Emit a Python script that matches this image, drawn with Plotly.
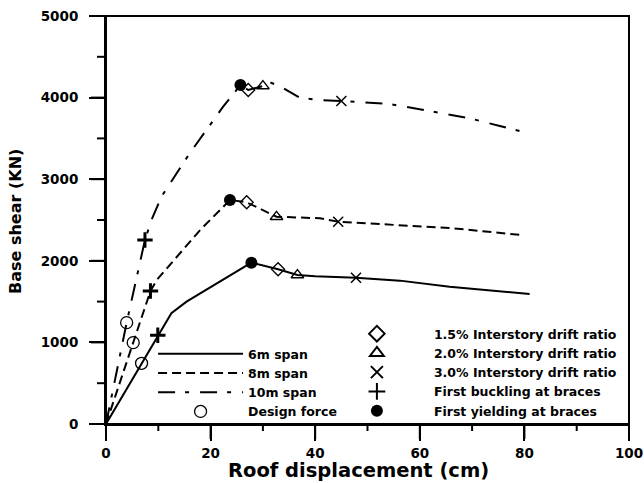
import plotly.graph_objects as go

# ---- data ----
x6 = [0, 6.8, 9.9, 12.5, 15.4, 27.8, 32.9, 36.6, 40, 47.8, 56.2, 65.7, 81]
y6 = [0, 744, 1087, 1357, 1499, 1977, 1896, 1826, 1810, 1793, 1757, 1683, 1593]

x8 = [0, 5.2, 8.5, 9.7, 18, 23.7, 26.9, 32.6, 40.9, 44.4, 50, 66, 79.4]
y8 = [0, 997, 1630, 1765, 2377, 2745, 2717, 2540, 2521, 2479, 2459, 2400, 2316]

x10 = [0, 3.95, 7.45, 8.7, 10.6, 16, 22.4, 25.7, 27.2, 30, 31, 33.2, 37, 40.9, 45, 54.2, 62.5, 69.5, 75.3, 80]
y10 = [0, 1242, 2255, 2500, 2786, 3317, 3889, 4154, 4093, 4142, 4195, 4142, 4000, 3970, 3958, 3922, 3828, 3747, 3652, 3575]

design_x = [6.8, 5.2, 3.95]
design_y = [744, 997, 1242]
drift15_x = [32.9, 26.9, 27.2]
drift15_y = [1896, 2717, 4093]
drift20_x = [36.6, 32.6, 30.0]
drift20_y = [1826, 2540, 4142]
drift30_x = [47.8, 44.4, 45.0]
drift30_y = [1793, 2479, 3958]
buckle_x = [9.9, 8.5, 7.45]
buckle_y = [1087, 1630, 2255]
yield_x = [27.8, 23.7, 25.7]
yield_y = [1977, 2745, 4154]

x_ticks = [0, 20, 40, 60, 80, 100]
x_minor = [10, 30, 50, 70, 90]
y_ticks = [0, 1000, 2000, 3000, 4000, 5000]
y_minor = [500, 1500, 2500, 3500, 4500]
x_range = [0, 100]
y_range = [0, 5000]

x_title = "Roof displacement (cm)"
y_title = "Base shear (KN)"

FONT = "DejaVu Sans"
W, H = 644, 483
M = dict(l=106, r=15, t=16, b=59)
PLOT_W = W - M["l"] - M["r"]
PLOT_H = H - M["t"] - M["b"]


def b(s):
    return "<b>" + str(s) + "</b>"


fig = go.Figure()

fig.add_trace(go.Scatter(x=x6, y=y6, mode="lines", name=b("6m span"),
                         line=dict(color="black", width=2), legend="legend"))
fig.add_trace(go.Scatter(x=x8, y=y8, mode="lines", name=b("8m span"),
                         line=dict(color="black", width=2, dash="9px,5px"), legend="legend"))
fig.add_trace(go.Scatter(x=x10, y=y10, mode="lines", name=b("10m span"),
                         line=dict(color="black", width=2, dash="17px,10px,4px,11px"), legend="legend"))
fig.add_trace(go.Scatter(x=design_x, y=design_y, mode="markers", name=b("Design force"),
                         marker=dict(symbol="circle-open", size=12, color="black", line=dict(width=1.3)),
                         legend="legend"))

fig.add_trace(go.Scatter(x=drift15_x, y=drift15_y, mode="markers", name=b("1.5% Interstory drift ratio"),
                         marker=dict(symbol="diamond-open", size=10, color="black", line=dict(width=1.3)),
                         legend="legend2"))
fig.add_trace(go.Scatter(x=drift20_x, y=drift20_y, mode="markers", name=b("2.0% Interstory drift ratio"),
                         marker=dict(symbol="triangle-up-open", size=11, color="black", line=dict(width=1.3)),
                         legend="legend2"))
fig.add_trace(go.Scatter(x=drift30_x, y=drift30_y, mode="markers", name=b("3.0% Interstory drift ratio"),
                         marker=dict(symbol="x-thin-open", size=10, color="black", line=dict(width=1.5)),
                         legend="legend2"))
fig.add_trace(go.Scatter(x=buckle_x, y=buckle_y, mode="markers", name=b("First buckling at braces"),
                         marker=dict(symbol="cross-thin-open", size=11, color="black", line=dict(width=3)),
                         legend="legend2"))
fig.add_trace(go.Scatter(x=yield_x, y=yield_y, mode="markers", name=b("First yielding at braces"),
                         marker=dict(symbol="circle", size=12, color="black"),
                         legend="legend2"))


# frame and tick marks in paper coordinates, derived from the ranges and tick lists
def xfrac(v):
    return (v - x_range[0]) / (x_range[1] - x_range[0])


def yfrac(v):
    return (v - y_range[0]) / (y_range[1] - y_range[0])


shapes = [dict(type="rect", xref="paper", yref="paper", x0=0, x1=1, y0=0, y1=1,
               line=dict(color="black", width=2), fillcolor="rgba(0,0,0,0)",
               opacity=1, layer="above")]
for v, ln in [(v, 15) for v in x_ticks] + [(v, 7) for v in x_minor]:
    shapes.append(dict(type="line", xref="paper", yref="paper",
                       x0=xfrac(v), x1=xfrac(v), y0=0, y1=-ln / PLOT_H,
                       line=dict(color="black", width=2), opacity=1, layer="above"))
for v, ln in [(v, 15) for v in y_ticks] + [(v, 9) for v in y_minor]:
    shapes.append(dict(type="line", xref="paper", yref="paper",
                       y0=yfrac(v), y1=yfrac(v), x0=0, x1=-ln / PLOT_W,
                       line=dict(color="black", width=2), opacity=1, layer="above"))

tickfont = dict(family=FONT, size=13.5, color="black")

fig.update_layout(
    template="simple_white",
    width=W, height=H,
    margin=dict(l=M["l"], r=M["r"], t=M["t"], b=M["b"], autoexpand=False),
    paper_bgcolor="white", plot_bgcolor="white",
    font=dict(family=FONT, color="black"),
    showlegend=True,
    xaxis=dict(
        range=x_range, tickmode="array", tickvals=x_ticks,
        ticktext=[b(v) for v in x_ticks],
        showline=True, linecolor="black", linewidth=2,
        showgrid=False, zeroline=False, automargin=False,
        ticks="outside", tickcolor="black", tickwidth=2, ticklen=15,
        ticklabelstandoff=1, tickfont=tickfont,
    ),
    yaxis=dict(
        range=y_range, tickmode="array", tickvals=y_ticks,
        ticktext=[b(v) for v in y_ticks],
        showline=True, linecolor="black", linewidth=2,
        showgrid=False, zeroline=False, automargin=False,
        ticks="outside", tickcolor="black", tickwidth=2, ticklen=15,
        ticklabelstandoff=8, tickfont=tickfont,
    ),
    shapes=shapes,
    legend=dict(x=0.09, y=-0.005, xanchor="left", yanchor="bottom",
                bgcolor="rgba(0,0,0,0)",
                font=dict(family=FONT, size=12.5, color="black"),
                itemwidth=85, tracegroupgap=0),
    legend2=dict(x=0.409, y=-0.005, xanchor="left", yanchor="bottom",
                 bgcolor="rgba(0,0,0,0)",
                 font=dict(family=FONT, size=12.5, color="black"),
                 itemwidth=104, itemsizing="constant", tracegroupgap=0),
    annotations=[
        dict(text=b(x_title), xref="paper", yref="paper", x=0.483, y=-0.113,
             xanchor="center", yanchor="middle", showarrow=False,
             font=dict(family=FONT, size=19.5, color="black")),
        dict(text=b(y_title), xref="paper", yref="paper", x=-0.174, y=0.4975,
             xanchor="center", yanchor="middle", showarrow=False, textangle=-90,
             font=dict(family=FONT, size=16, color="black")),
    ],
)

fig.write_html("out.html")
